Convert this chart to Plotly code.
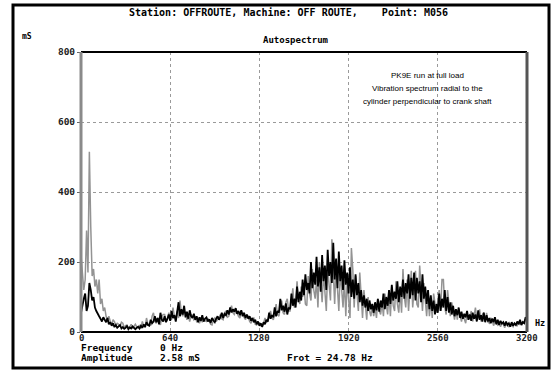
import plotly.graph_objects as go

# ---- data ----
step_hz = 10
black_vals = [55, 80, 95, 110, 60, 75, 140, 120, 90, 100,
              70, 60, 50, 45, 38, 30, 42, 35, 28, 40,
              22, 28, 18, 25, 14, 20, 12, 16, 20, 10,
              14, 9, 12, 18, 8, 13, 10, 16, 12, 8,
              12, 15, 10, 18, 12, 22, 14, 28, 20, 18,
              35, 25, 30, 45, 28, 40, 22, 55, 35, 30,
              45, 28, 38, 50, 32, 60, 40, 48, 30, 55,
              85, 45, 65, 50, 75, 42, 58, 38, 62, 45,
              40, 52, 35, 45, 28, 42, 32, 48, 30, 38,
              42, 30, 36, 26, 40, 33, 28, 38, 45, 35,
              42, 55, 40, 52, 48, 62, 50, 70, 56, 65,
              58, 68, 52, 60, 48, 62, 45, 55, 40, 50,
              38, 45, 32, 40, 28, 35, 22, 30, 18, 25,
              15, 28, 22, 35, 30, 55, 38, 48, 42, 70,
              45, 60, 55, 95, 62, 75, 58, 82, 50, 70,
              65, 110, 75, 95, 70, 130, 85, 115, 90, 150,
              105, 165, 120, 140, 110, 200, 125, 170, 135, 215,
              130, 185, 115, 220, 145, 190, 120, 235, 160, 200,
              140, 255, 150, 210, 125, 230, 145, 190, 120, 205,
              135, 170, 110, 185, 100, 150, 95, 165, 105, 140,
              85, 120, 75, 105, 70, 95, 60, 90, 65, 80,
              55, 85, 62, 95, 58, 90, 70, 110, 65, 100,
              75, 120, 80, 135, 90, 115, 95, 145, 85, 130,
              100, 150, 95, 140, 110, 165, 95, 155, 105, 170,
              90, 155, 110, 145, 85, 165, 95, 130, 80, 120,
              65, 105, 60, 90, 50, 80, 55, 110, 60, 95,
              70, 120, 60, 100, 55, 85, 50, 75, 45, 65,
              48, 70, 40, 58, 38, 52, 42, 60, 35, 50,
              32, 55, 38, 50, 30, 62, 35, 48, 30, 55,
              28, 48, 30, 40, 25, 38, 28, 42, 22, 35,
              20, 32, 24, 28, 18, 30, 20, 25, 15, 28,
              18, 25, 20, 30, 22, 35, 20, 28, 25, 42,
              38]
grey_vals = [220, 180, 120, 150, 290, 170, 515, 300, 160, 180,
             130, 150, 110, 150, 80, 95, 60, 70, 45, 35,
             45, 30, 20, 35, 30, 18, 25, 22, 15, 28,
             25, 12, 18, 20, 10, 15, 22, 10, 18, 22,
             15, 12, 20, 10, 30, 18, 15, 40, 22, 20,
             20, 45, 55, 30, 25, 40, 35, 20, 45, 50,
             50, 30, 35, 55, 40, 35, 70, 45, 38, 60,
             40, 90, 55, 45, 60, 55, 35, 45, 30, 50,
             45, 35, 40, 30, 35, 25, 40, 28, 40, 32,
             30, 38, 35, 22, 20, 35, 40, 30, 35, 42,
             50, 38, 35, 55, 60, 42, 45, 65, 75, 55,
             50, 60, 55, 45, 40, 58, 55, 42, 35, 48,
             45, 30, 25, 38, 40, 22, 20, 28, 25, 18,
             15, 25, 40, 28, 30, 45, 60, 40, 35, 55,
             80, 50, 45, 70, 90, 55, 50, 85, 95, 60,
             60, 90, 125, 70, 80, 145, 95, 80, 130, 100,
             130, 80, 75, 160, 110, 90, 180, 120, 95, 150,
             70, 200, 130, 85, 170, 110, 60, 180, 140, 90,
             265, 150, 80, 190, 110, 60, 175, 130, 70, 150,
             45, 150, 100, 40, 240, 180, 70, 160, 110, 60,
             170, 90, 40, 120, 70, 35, 100, 60, 45, 80,
             45, 70, 40, 95, 60, 50, 85, 45, 110, 70,
             50, 110, 45, 130, 75, 60, 145, 80, 55, 120,
             55, 180, 100, 70, 150, 60, 130, 175, 70, 120,
             175, 80, 70, 190, 110, 60, 140, 90, 45, 110,
             45, 90, 40, 110, 75, 55, 90, 120, 60, 150,
             150, 70, 50, 120, 80, 45, 85, 60, 35, 65,
             35, 65, 45, 30, 50, 40, 25, 55, 35, 45,
             60, 30, 45, 70, 35, 40, 65, 30, 50, 55,
             30, 55, 28, 25, 40, 35, 18, 30, 25, 20,
             30, 15, 25, 22, 12, 25, 18, 15, 22, 20,
             15, 25, 20, 18, 30, 22, 25, 30, 28, 35,
             45]
x_ticks = [0, 640, 1280, 1920, 2560, 3200]
y_ticks = [0, 200, 400, 600, 800]

freq_black = [i * step_hz for i in range(len(black_vals))]
freq_grey = [i * step_hz for i in range(len(grey_vals))]

W, H = 554, 374
L, R, T, B = 81, 27, 52, 42
PW, PH = W - L - R, H - T - B


def px(x):
    return (x - L) / PW


def py(y):
    return (H - B - y) / PH


MONO = "DejaVu Sans Mono"
SANS = "Liberation Sans"

fig = go.Figure()
fig.add_trace(go.Scatter(x=freq_grey, y=grey_vals, mode="lines",
                         line=dict(color="#939393", width=1.5),
                         hoverinfo="skip", showlegend=False))
fig.add_trace(go.Scatter(x=freq_black, y=black_vals, mode="lines",
                         line=dict(color="#000000", width=1.8),
                         hoverinfo="skip", showlegend=False))

fig.update_layout(
    width=W, height=H,
    margin=dict(l=L, r=R, t=T, b=B),
    paper_bgcolor="white", plot_bgcolor="white",
    showlegend=False,
    xaxis=dict(range=[0, 3200], tickmode="array", tickvals=x_ticks,
               showticklabels=False,
               showgrid=True, gridcolor="#9a9a9a", griddash="dot", gridwidth=1,
               zeroline=False, showline=False, ticks="",
               fixedrange=True),
    yaxis=dict(range=[0, 800], tickmode="array", tickvals=y_ticks,
               ticktext=["<b>%d</b>" % v for v in y_ticks],
               showgrid=True, gridcolor="#9a9a9a", griddash="dot", gridwidth=1,
               zeroline=False, showline=False, ticks="outside", ticklen=3,
               tickcolor="#666", tickfont=dict(family=MONO, size=9.5, color="#222"),
               fixedrange=True),
)

shapes = []
# plot frame
shapes.append(dict(type="line", xref="paper", yref="paper", x0=0, x1=1, y0=1, y1=1,
                   line=dict(color="black", width=2)))
shapes.append(dict(type="line", xref="paper", yref="paper", x0=0, x1=1, y0=0, y1=0,
                   line=dict(color="black", width=2)))
shapes.append(dict(type="line", xref="paper", yref="paper", x0=1, x1=1, y0=0, y1=1,
                   line=dict(color="#555555", width=3)))
shapes.append(dict(type="line", xref="paper", yref="paper", x0=0, x1=0, y0=0, y1=1,
                   line=dict(color="#8a8a8a", width=3)))
# outer frame
shapes.append(dict(type="rect", xref="paper", yref="paper",
                   x0=px(13), x1=px(549), y0=py(5), y1=py(368),
                   line=dict(color="black", width=3), layer="above"))
fig.update_layout(shapes=shapes)


def txt(x, y, s, font=MONO, size=9, xanchor="left"):
    fig.add_annotation(x=px(x), y=py(y), xref="paper", yref="paper", text=s,
                       showarrow=False, xanchor=xanchor, yanchor="middle",
                       font=dict(family=font, size=size, color="black"))


# x tick labels placed via the x data scale
for v in x_ticks:
    fig.add_annotation(x=v, y=py(338), xref="x", yref="paper", text="<b>%d</b>" % v,
                       showarrow=False, xanchor="center", yanchor="middle",
                       font=dict(family=MONO, size=9, color="#222"))

txt(288, 12, "<b>Station: OFFROUTE, Machine: OFF ROUTE,    Point: M056</b>",
    size=10, xanchor="center")
txt(20, 37, "<b>mS</b>", size=8)
txt(296, 40, "<b>Autospectrum</b>", size=9, xanchor="center")
txt(427, 75, "PK9E run at full load", font=SANS, size=8, xanchor="center")
txt(427, 88, "Vibration spectrum radial to the", font=SANS, size=8, xanchor="center")
txt(427, 101, "cylinder perpendicular to crank shaft", font=SANS, size=8, xanchor="center")
txt(533, 323, "<b>Hz</b>", size=8.5)
txt(79, 347, "<b>Frequency</b>", size=9.5)
txt(158, 347, "<b>0 Hz</b>", size=9.5)
txt(79, 357, "<b>Amplitude</b>", size=9.5)
txt(158, 357, "<b>2.58 mS</b>", size=9.5)
txt(285, 357, "<b>Frot = 24.78 Hz</b>", size=9.5)

fig.write_html("out.html", config={"displayModeBar": False},
               post_script="document.body.style.margin='0';document.body.style.overflow='hidden';")
